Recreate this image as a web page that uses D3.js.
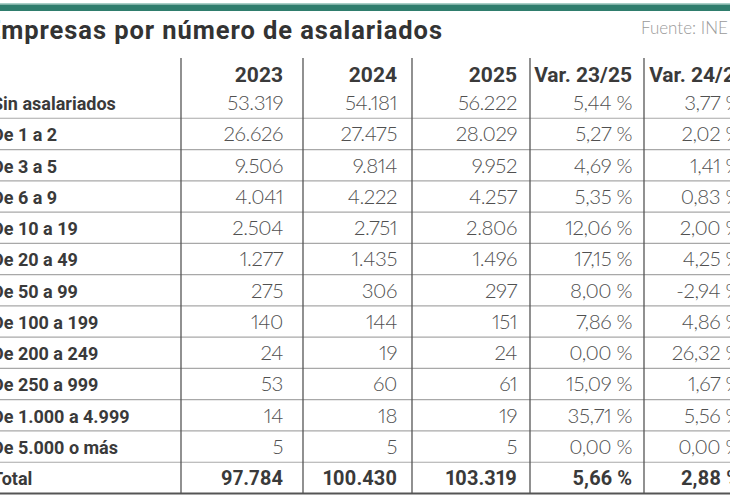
<!DOCTYPE html>
<html>
<head>
<meta charset="utf-8">
<script src="https://cdn.jsdelivr.net/npm/d3@7"></script>
<style>
  html, body { margin: 0; padding: 0; background: #fff; overflow: hidden; }
  svg { display: block; }
  .num { font-variant-numeric: proportional-nums; font-feature-settings: "pnum" 1; }
</style>
</head>
<body>
<div id="chart"></div>
<script>
// datos: empresas por número de asalariados (INE)
const categories = ["Sin asalariados", "De 1 a 2", "De 3 a 5", "De 6 a 9", "De 10 a 19",
  "De 20 a 49", "De 50 a 99", "De 100 a 199", "De 200 a 249", "De 250 a 999",
  "De 1.000 a 4.999", "De 5.000 o más", "Total"];
const headers = ["2023", "2024", "2025", "Var. 23/25", "Var. 24/25"];
const y2023 = [53319, 26626, 9506, 4041, 2504, 1277, 275, 140, 24, 53, 14, 5, 97784];
const y2024 = [54181, 27475, 9814, 4222, 2751, 1435, 306, 144, 19, 60, 18, 5, 100430];
const y2025 = [56222, 28029, 9952, 4257, 2806, 1496, 297, 151, 24, 61, 19, 5, 103319];
const var2325 = [5.44, 5.27, 4.69, 5.35, 12.06, 17.15, 8.00, 7.86, 0.00, 15.09, 35.71, 0.00, 5.66];
const var2425 = [3.77, 2.02, 1.41, 0.83, 2.00, 4.25, -2.94, 4.86, 26.32, 1.67, 5.56, 0.00, 2.88];

const width = 730, height = 500;

// formato español
const es = d3.formatLocale({ decimal: ",", thousands: ".", grouping: [3], currency: ["", " €"], minus: "-" });
const fmtInt = es.format(",d");
const fmtPct = d => es.format(".2f")(d) + " %";

const columns = [
  { key: "y2023", values: y2023, fmt: fmtInt },
  { key: "y2024", values: y2024, fmt: fmtInt },
  { key: "y2025", values: y2025, fmt: fmtInt },
  { key: "var2325", values: var2325, fmt: fmtPct },
  { key: "var2425", values: var2425, fmt: fmtPct }
];

// posiciones de las columnas (separadores y final del texto)
const colLines = [181, 303, 412, 530, 644];
const colText = d3.scaleOrdinal().domain(columns.map(c => c.key)).range([283, 397, 517, 632, 741]);

// filas
const yScale = d3.scaleBand().domain(categories).range([87, 493.5]);

const svg = d3.select("#chart").append("svg")
  .attr("width", width).attr("height", height)
  .attr("viewBox", [0, 0, width, height]);

// barra superior
svg.append("rect").attr("x", 0).attr("y", 3).attr("width", width).attr("height", 1.5).attr("fill", "#a9d0c8");
svg.append("rect").attr("x", 0).attr("y", 4.5).attr("width", width).attr("height", 6.5).attr("fill", "#2f7d6d");

// título
svg.append("text")
  .attr("x", -14).attr("y", 39)
  .attr("font-family", "Roboto, sans-serif")
  .attr("font-weight", 700)
  .attr("font-size", 25.5)
  .attr("textLength", 456)
  .attr("lengthAdjust", "spacing")
  .attr("fill", "#333")
  .text("Empresas por número de asalariados");

svg.append("text")
  .attr("x", 641).attr("y", 34)
  .attr("font-family", "Lato, sans-serif")
  .attr("font-weight", 300)
  .attr("font-size", 17)
  .attr("fill", "#9a9a9a")
  .text("Fuente: INE");

// líneas horizontales entre filas
svg.append("g").selectAll("line")
  .data(categories.slice(0, -1))
  .join("line")
  .attr("x1", 0).attr("x2", width)
  .attr("y1", d => yScale(d) + yScale.bandwidth())
  .attr("y2", d => yScale(d) + yScale.bandwidth())
  .attr("stroke", "#a8a8a8")
  .attr("stroke-width", 1.2);

// línea inferior
svg.append("line")
  .attr("x1", 0).attr("x2", width)
  .attr("y1", yScale.range()[1]).attr("y2", yScale.range()[1])
  .attr("stroke", "#555").attr("stroke-width", 1.8);

// líneas verticales
svg.append("g").selectAll("line")
  .data(colLines)
  .join("line")
  .attr("x1", d => d).attr("x2", d => d)
  .attr("y1", 58).attr("y2", yScale.range()[1])
  .attr("stroke", "#555")
  .attr("stroke-width", 1.3);

// cabecera
svg.append("g").selectAll("text")
  .data(columns)
  .join("text")
  .attr("x", d => colText(d.key) + (d.key === "var2425" ? 6 : 0))
  .attr("y", 82)
  .attr("text-anchor", "end")
  .attr("font-family", "Roboto, sans-serif")
  .attr("font-weight", 700)
  .attr("font-size", 21)
  .attr("fill", "#3a3a3a")
  .text((d, i) => headers[i]);

// etiquetas de filas
svg.append("g").selectAll("text")
  .data(categories)
  .join("text")
  .attr("x", -8)
  .attr("y", d => yScale(d) + 23)
  .attr("font-family", "Roboto, sans-serif")
  .attr("font-weight", 700)
  .attr("font-size", 18)
  .attr("fill", "#3a3a3a")
  .text(d => d);

// valores
const cells = svg.append("g").selectAll("g")
  .data(columns)
  .join("g");

cells.selectAll("text")
  .data(c => c.values.map((v, i) => ({ col: c, v, cat: categories[i], total: i === categories.length - 1 })))
  .join("text")
  .attr("class", "num")
  .attr("x", d => colText(d.col.key))
  .attr("y", d => yScale(d.cat) + 23)
  .attr("text-anchor", "end")
  .attr("font-family", d => d.total ? "Roboto, sans-serif" : "Lato, sans-serif")
  .attr("font-weight", d => d.total ? 700 : 300)
  .attr("font-size", d => d.total ? 20 : 20.5)
  .attr("letter-spacing", d => d.total ? 0 : -0.4)
  .attr("fill", d => d.total ? "#3a3a3a" : "#505050")
  .text(d => d.col.fmt(d.v));
</script>
</body>
</html>
